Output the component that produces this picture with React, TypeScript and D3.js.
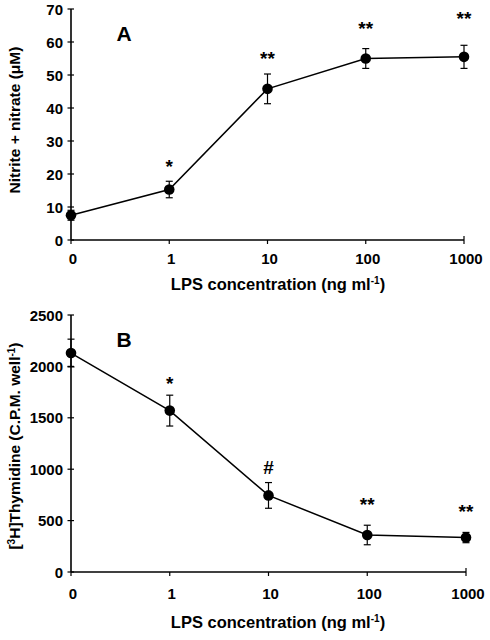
import React from "react";
import * as d3 from "d3";

const categories = ["0", "1", "10", "100", "1000"];

const nitrite = [7.5, 15.3, 45.8, 55.0, 55.5];
const nitriteErr = [1.5, 2.5, 4.5, 3.0, 3.5];
const nitriteSig = ["", "*", "**", "**", "**"];
const nitriteSigAt = [0, 23.5, 56.5, 65.5, 68.5];
const nitriteTicks = [0, 10, 20, 30, 40, 50, 60, 70];

const thymidine = [2130, 1570, 745, 360, 335];
const thymidineErr = [135, 150, 125, 95, 50];
const thymidineSig = ["", "*", "#", "**", "**"];
const thymidineSigAt = [0, 1880, 1020, 700, 632];
const thymidineTicks = [0, 500, 1000, 1500, 2000, 2500];

const FONT = "'Liberation Sans', Arial, sans-serif";

type PanelProps = {
  values: number[];
  errs: number[];
  sig: string[];
  sigAt: number[];
  ticks: number[];
  yDomain: [number, number];
  yRange: [number, number];
  xRange: [number, number];
  letter: string;
  yTitle: React.ReactNode;
  yTitleCenter: number;
  xTickBaseline: number;
  xTitleBaseline: number;
};

function Panel(p: PanelProps) {
  const x = d3.scalePoint<string>().domain(categories).range(p.xRange);
  const y = d3.scaleLinear().domain(p.yDomain).range(p.yRange);
  const x0 = p.xRange[0];
  const yBase = p.yRange[0];
  const line = d3
    .line<number>()
    .x((_, i) => x(categories[i]) as number)
    .y((d) => y(d));
  const cap = 3.5;
  return (
    <g>
      {/* axes */}
      <line x1={x0} x2={x0} y1={yBase} y2={p.yRange[1]} stroke="#000" strokeWidth={1.6} />
      <line x1={x0} x2={p.xRange[1]} y1={yBase} y2={yBase} stroke="#000" strokeWidth={1.6} />
      <line x1={p.xRange[1]} x2={p.xRange[1]} y1={yBase} y2={yBase - 4} stroke="#000" strokeWidth={1.2} />
      {p.ticks.map((t) => (
        <g key={t}>
          <line x1={x0 - 3.5} x2={x0 + 3} y1={y(t)} y2={y(t)} stroke="#000" strokeWidth={1.2} />
          <text
            x={x0 - 8}
            y={y(t) + 5.5}
            textAnchor="end"
            fontFamily={FONT}
            fontWeight="bold"
            fontSize={15}
          >
            {t}
          </text>
        </g>
      ))}
      {categories.map((c) => (
        <g key={c}>
          <line x1={x(c)} x2={x(c)} y1={yBase} y2={yBase + 4} stroke="#000" strokeWidth={1.2} />
          <text
            x={(x(c) as number) + 2}
            y={p.xTickBaseline}
            textAnchor="middle"
            fontFamily={FONT}
            fontWeight="bold"
            fontSize={15}
          >
            {c}
          </text>
        </g>
      ))}
      {/* line */}
      <path d={line(p.values) || ""} fill="none" stroke="#000" strokeWidth={1.5} />
      {/* error bars */}
      {p.values.map((v, i) => {
        const cx = x(categories[i]) as number;
        const top = y(v + p.errs[i]);
        const bot = y(v - p.errs[i]);
        return (
          <g key={i}>
            <line x1={cx} x2={cx} y1={top} y2={bot} stroke="#000" strokeWidth={1.2} />
            <line x1={cx - cap} x2={cx + cap} y1={top} y2={top} stroke="#000" strokeWidth={1.2} />
            <line x1={cx - cap} x2={cx + cap} y1={bot} y2={bot} stroke="#000" strokeWidth={1.2} />
            <circle cx={cx} cy={y(v)} r={5.3} fill="#000" />
          </g>
        );
      })}
      {/* significance */}
      {p.sig.map((s, i) =>
        s ? (
          <text
            key={i}
            x={x(categories[i]) as number}
            y={y(p.sigAt[i]) + (s === "#" ? 7 : 11)}
            textAnchor="middle"
            fontFamily={FONT}
            fontWeight="bold"
            fontSize={19}
          >
            {s}
          </text>
        ) : null
      )}
      {/* panel letter */}
      <text x={124} y={p.yRange[1] + 32} textAnchor="middle" fontFamily={FONT} fontWeight="bold" fontSize={21}>
        {p.letter}
      </text>
      {/* y title */}
      <text
        transform={`translate(20,${p.yTitleCenter}) rotate(-90)`}
        textAnchor="middle"
        fontFamily={FONT}
        fontWeight="bold"
        fontSize={15.5}
      >
        {p.yTitle}
      </text>
      {/* x title */}
      <text x={278} y={p.xTitleBaseline} textAnchor="middle" fontFamily={FONT} fontWeight="bold" fontSize={16.5}>
        LPS concentration (ng ml
        <tspan dy={-6} fontSize={10}>-1</tspan>
        <tspan dy={6}>)</tspan>
      </text>
    </g>
  );
}

export default function App() {
  return (
    <svg
      width={490}
      height={640}
      style={{ position: "absolute", left: 0, top: 0, background: "#fff" }}
    >
      <rect width={490} height={640} fill="#fff" />
      <Panel
        values={nitrite}
        errs={nitriteErr}
        sig={nitriteSig}
        sigAt={nitriteSigAt}
        ticks={nitriteTicks}
        yDomain={[0, 70]}
        yRange={[240, 9]}
        xRange={[71, 464]}
        letter="A"
        yTitle={"Nitrite + nitrate (\u03bcM)"}
        yTitleCenter={120}
        xTickBaseline={264}
        xTitleBaseline={290}
      />
      <Panel
        values={thymidine}
        errs={thymidineErr}
        sig={thymidineSig}
        sigAt={thymidineSigAt}
        ticks={thymidineTicks}
        yDomain={[0, 2500]}
        yRange={[572, 315]}
        xRange={[71, 466]}
        letter="B"
        yTitle={
          <>
            [<tspan dy={-5} fontSize={10}>3</tspan>
            <tspan dy={5}>H]Thymidine (C.P.M. well</tspan>
            <tspan dy={-5} fontSize={10}>-1</tspan>
            <tspan dy={5}>)</tspan>
          </>
        }
        yTitleCenter={446}
        xTickBaseline={599}
        xTitleBaseline={628}
      />
    </svg>
  );
}
